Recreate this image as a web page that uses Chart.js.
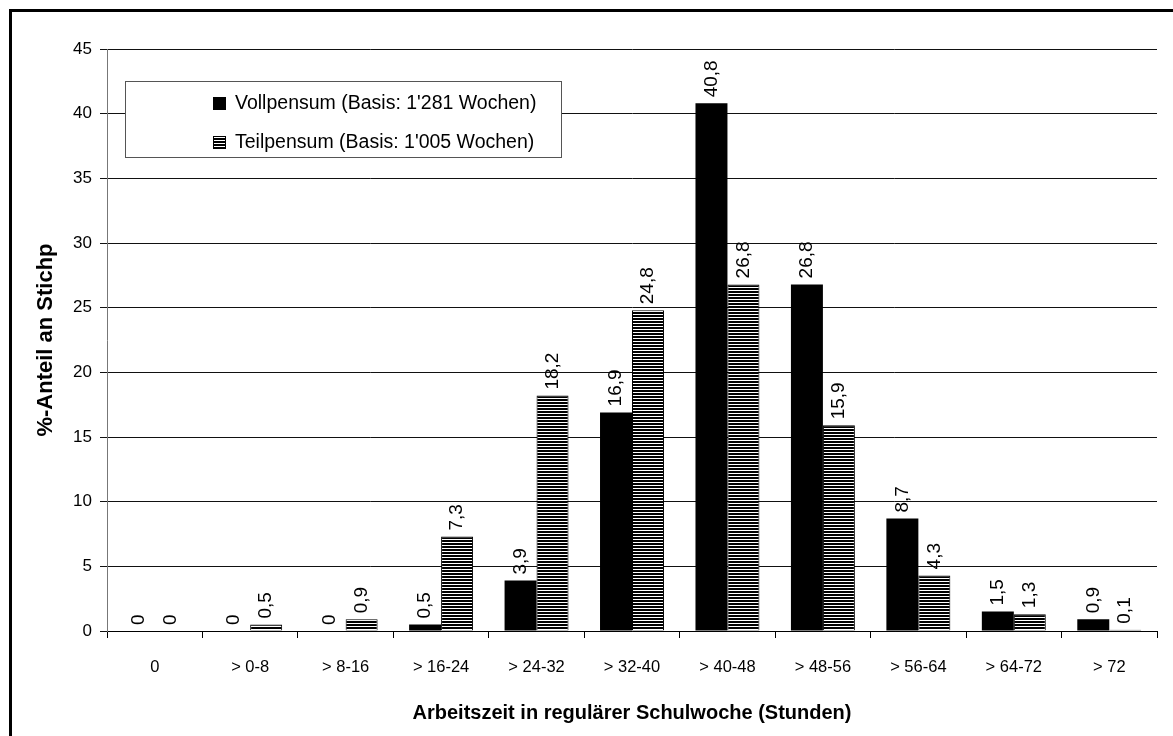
<!DOCTYPE html>
<html>
<head>
<meta charset="utf-8">
<script src="https://cdn.jsdelivr.net/npm/chart.js"></script>
<style>
  body { margin: 0; background: #fff; }
</style>
</head>
<body>
<canvas id="myChart" width="1173" height="736"></canvas>
<script>
// data
var categories = ["0", "> 0-8", "> 8-16", "> 16-24", "> 24-32", "> 32-40", "> 40-48", "> 48-56", "> 56-64", "> 64-72", "> 72"];
var vollpensum = [0, 0, 0, 0.5, 3.9, 16.9, 40.8, 26.8, 8.7, 1.5, 0.9];
var teilpensum = [0, 0.5, 0.9, 7.3, 18.2, 24.8, 26.8, 15.9, 4.3, 1.3, 0.1];
var seriesNames = ["Vollpensum (Basis: 1'281 Wochen)", "Teilpensum (Basis: 1'005 Wochen)"];
var yMin = 0, yMax = 45, yStep = 5;

var FONT = '"Liberation Sans", Arial, sans-serif';
Chart.defaults.font.family = FONT;
Chart.defaults.color = '#000';

function stripes() {
  var c = document.createElement('canvas');
  c.width = 4; c.height = 3;
  var g = c.getContext('2d');
  g.fillStyle = '#fff';
  g.fillRect(0, 0, 4, 3);
  g.fillStyle = '#000';
  g.fillRect(0, 0, 4, 2);
  return g.createPattern(c, 'repeat');
}
var stripeFill = stripes();

// white page + frame on left/top
var frame = {
  id: 'frame',
  beforeDraw: function(chart) {
    var ctx = chart.ctx;
    ctx.save();
    ctx.fillStyle = '#fff';
    ctx.fillRect(0, 0, chart.width, chart.height);
    ctx.fillStyle = '#000';
    ctx.fillRect(9, 9, 3, chart.height);
    ctx.fillRect(9, 9, chart.width, 3);
    ctx.restore();
  }
};

// rotated values above bars
var valueLabels = {
  id: 'valueLabels',
  afterDatasetsDraw: function(chart) {
    var ctx = chart.ctx;
    ctx.save();
    ctx.font = '19px ' + FONT;
    ctx.fillStyle = '#000';
    ctx.textAlign = 'left';
    ctx.textBaseline = 'middle';
    chart.data.datasets.forEach(function(ds, i) {
      chart.getDatasetMeta(i).data.forEach(function(bar, j) {
        ctx.save();
        ctx.translate(bar.x, bar.y - 6);
        ctx.rotate(-Math.PI / 2);
        ctx.fillText(String(ds.data[j]).replace('.', ','), 0, 0);
        ctx.restore();
      });
    });
    ctx.restore();
  }
};

// legend box inside the plot
var boxLegend = {
  id: 'boxLegend',
  afterDraw: function(chart) {
    var ctx = chart.ctx;
    var a = chart.chartArea;
    var x = a.left + 18, y = a.top + 32, w = 436, h = 76;
    ctx.save();
    ctx.fillStyle = '#fff';
    ctx.fillRect(x, y, w, h);
    ctx.strokeStyle = '#555';
    ctx.lineWidth = 1;
    ctx.strokeRect(x + 0.5, y + 0.5, w, h);
    ctx.font = '19.5px ' + FONT;
    ctx.textBaseline = 'middle';
    chart.data.datasets.forEach(function(ds, i) {
      var cy = y + 22 + i * 39;
      ctx.fillStyle = ds.backgroundColor;
      ctx.fillRect(x + 88, cy - 6, 13, 13);
      ctx.strokeStyle = '#000';
      ctx.strokeRect(x + 88.5, cy - 5.5, 12, 12);
      ctx.fillStyle = '#000';
      ctx.fillText(ds.label, x + 110, cy + 1);
    });
    ctx.restore();
  }
};

var ctx = document.getElementById("myChart");
var myChart = new Chart(ctx, {
  type: 'bar',
  data: {
    labels: categories,
    datasets: [
      {
        data: vollpensum,
        label: seriesNames[0],
        backgroundColor: '#000',
        borderColor: '#000',
        borderWidth: 0
      },
      {
        data: teilpensum,
        label: seriesNames[1],
        backgroundColor: stripeFill,
        borderColor: '#000',
        borderWidth: 1
      }
    ]
  },
  options: {
    responsive: false,
    animation: false,
    devicePixelRatio: 1,
    categoryPercentage: 0.67,
    barPercentage: 1,
    layout: { padding: { left: 12, top: 49, right: 16, bottom: 0 } },
    plugins: {
      legend: { display: false },
      tooltip: { enabled: false }
    },
    scales: {
      x: {
        grid: { drawOnChartArea: false, tickLength: 7, color: '#000', offset: true },
        border: { color: '#000' },
        ticks: { color: '#000', font: { size: 16.5 }, padding: 20, maxRotation: 0, autoSkip: false },
        title: {
          display: true,
          text: 'Arbeitszeit in regulärer Schulwoche (Stunden)',
          color: '#000',
          font: { size: 20, weight: 'bold' },
          padding: { top: 0, bottom: 11 }
        },
        afterFit: function(s) { s.height = 105; }
      },
      y: {
        min: yMin,
        max: yMax,
        ticks: { stepSize: yStep, color: '#000', font: { size: 17 }, padding: 8 },
        grid: { color: '#111', tickLength: 7 },
        border: { color: '#777' },
        title: {
          display: true,
          text: '%-Anteil an Stichp',
          color: '#000',
          font: { size: 22, weight: 'bold' },
          padding: { top: 21, bottom: 0 }
        },
        afterFit: function(s) { s.width = 95; }
      }
    }
  },
  plugins: [frame, valueLabels, boxLegend]
});
</script>
</body>
</html>
